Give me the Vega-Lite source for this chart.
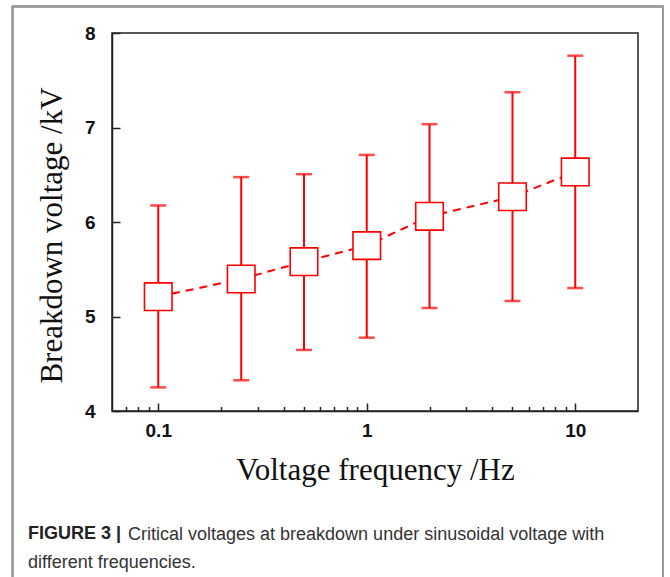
{
  "$schema": "https://vega.github.io/schema/vega-lite/v6.json",
  "autosize": "none",
  "width": 526,
  "height": 378,
  "padding": {"left": 112, "top": 33, "right": 32, "bottom": 166},
  "background": "white",
  "data": {
    "values": [
      {"f": 0.1, "mean": 5.21, "low": 4.25, "high": 6.175},
      {"f": 0.25, "mean": 5.397, "low": 4.325, "high": 6.475},
      {"f": 0.5, "mean": 5.58, "low": 4.646, "high": 6.506},
      {"f": 1, "mean": 5.75, "low": 4.776, "high": 6.71},
      {"f": 2, "mean": 6.06, "low": 5.09, "high": 7.035},
      {"f": 5, "mean": 6.267, "low": 5.164, "high": 7.373},
      {"f": 10, "mean": 6.53, "low": 5.301, "high": 7.76}
    ]
  },
  "config": {
    "view": {"stroke": "#222", "strokeWidth": 1.5},
    "axis": {
      "grid": false,
      "domainColor": "#222",
      "domainWidth": 1.5,
      "tickColor": "#222",
      "tickWidth": 1.5,
      "labelFont": "Liberation Sans",
      "labelFontWeight": "bold",
      "labelFontSize": 19,
      "labelColor": "#111",
      "titleFont": "Liberation Serif",
      "titleFontWeight": "normal",
      "titleFontSize": 31,
      "titleColor": "#111"
    }
  },
  "title": {
    "text": "FIGURE 3 |",
    "subtitle": ["\u200b\u2003\u2003\u2003\u2003\u2003\u00a0\u00a0Critical voltages at breakdown under sinusoidal voltage with", "different frequencies."],
    "orient": "bottom",
    "anchor": "start",
    "frame": "group",
    "dx": -84,
    "offset": -57,
    "font": "Liberation Sans",
    "fontSize": 18,
    "fontWeight": "bold",
    "color": "#222",
    "subtitleFont": "Liberation Sans",
    "subtitleFontSize": 18,
    "subtitleColor": "#333",
    "subtitleLineHeight": 28,
    "subtitlePadding": -17
  },
  "resolve": {"axis": {"x": "independent"}},
  "layer": [
    {
      "mark": {"type": "rect", "filled": false, "stroke": "#999", "strokeWidth": 1.5},
      "encoding": {
        "x": {"datum": 0.02, "type": "quantitative", "scale": {"type": "log", "domain": [0.06, 20], "nice": false}, "axis": null},
        "x2": {"datum": 26.3},
        "y": {"datum": 8.28, "type": "quantitative", "scale": {"domain": [4, 8], "zero": false, "nice": false}},
        "y2": {"datum": 2.2}
      }
    },
    {
      "mark": {"type": "line", "color": "#ff0000", "strokeWidth": 2, "strokeDash": [8, 6]},
      "encoding": {
        "x": {
          "field": "f", "type": "quantitative",
          "scale": {"type": "log", "domain": [0.06, 20], "nice": false},
          "axis": {"orient": "bottom", "values": [0.1, 1, 10], "format": "~g", "tickSize": -8, "labelPadding": 18, "title": "Voltage frequency /Hz", "titlePadding": 15}
        },
        "y": {
          "field": "mean", "type": "quantitative",
          "scale": {"domain": [4, 8], "zero": false, "nice": false},
          "axis": {"values": [4, 5, 6, 7, 8], "format": "d", "tickSize": -8, "labelPadding": 25, "title": "Breakdown voltage /kV", "titleX": -44, "titleY": 202, "titleBaseline": "bottom", "titleAngle": -90}
        }
      }
    },
    {
      "mark": {"type": "rule", "color": "#ff0000", "strokeWidth": 2},
      "encoding": {
        "x": {
          "field": "f", "type": "quantitative",
          "scale": {"type": "log", "domain": [0.06, 20], "nice": false},
          "axis": {"orient": "bottom", "values": [0.07, 0.08, 0.09, 0.2, 0.3, 0.4, 0.5, 0.6, 0.7, 0.8, 0.9, 2, 3, 4, 5, 6, 7, 8, 9], "tickSize": -4.5, "labels": false, "domain": false, "title": null}
        },
        "y": {"field": "low", "type": "quantitative"},
        "y2": {"field": "high"}
      }
    },
    {
      "transform": [{"fold": ["low", "high"], "as": ["end", "v"]}],
      "mark": {"type": "tick", "orient": "horizontal", "color": "#ff0000", "size": 16, "thickness": 2.5},
      "encoding": {
        "x": {"field": "f", "type": "quantitative", "axis": null},
        "y": {"field": "v", "type": "quantitative"}
      }
    },
    {
      "mark": {"type": "point", "shape": "square", "filled": true, "fill": "white", "stroke": "#ff0000", "strokeWidth": 1.6, "size": 760, "opacity": 1},
      "encoding": {
        "x": {"field": "f", "type": "quantitative", "axis": null},
        "y": {"field": "mean", "type": "quantitative"}
      }
    }
  ]
}
